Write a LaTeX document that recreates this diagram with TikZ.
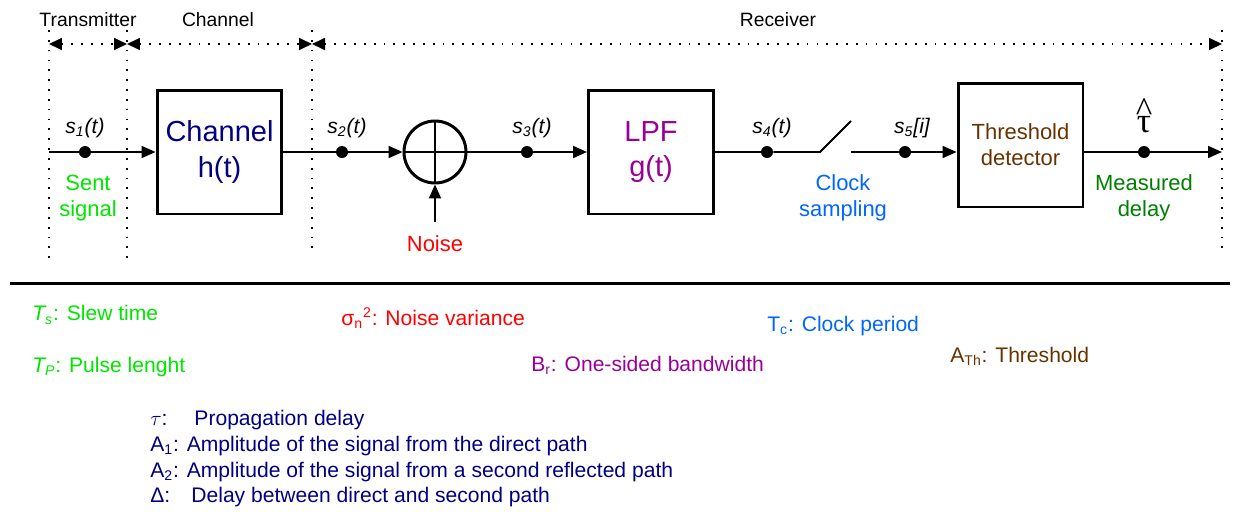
\documentclass[tikz,border=0pt]{standalone}
\usepackage{fontspec}
\setmainfont{Liberation Sans}
\newfontfamily\greekserif{Liberation Serif}
\usetikzlibrary{arrows.meta}
\definecolor{sentgreen}{RGB}{0,230,0}
\definecolor{chnavy}{RGB}{0,0,128}
\definecolor{lpfpurple}{RGB}{153,0,153}
\definecolor{thrbrown}{RGB}{102,51,0}
\definecolor{clkblue}{RGB}{0,102,255}
\definecolor{delaygreen}{RGB}{0,128,0}
\tikzset{
  sig/.style={line width=1.1pt},
  tip/.style={-{Triangle[length=0.28cm,width=0.24cm]}},
  blockbox/.style={draw,line width=1.7pt,minimum width=2.5cm,minimum height=2.48cm,align=center,inner sep=0pt},
  sdot/.style={circle,fill,inner sep=0pt,minimum size=0.24cm},
  sname/.style={font=\fontsize{12}{14}\selectfont\itshape},
  note/.style={font=\fontsize{12.5}{14.7}\selectfont,align=center},
  legend/.style={font=\fontsize{12}{14.6}\selectfont,anchor=west,inner sep=0pt},
  border/.style={line width=1pt,dash pattern=on 1pt off 4.6pt},
  span/.style={border,{Triangle[length=0.26cm,width=0.24cm]}-{Triangle[length=0.26cm,width=0.24cm]}}
}
\begin{document}
\begin{tikzpicture}[x=0.02cm,y=-0.02cm]
\useasboundingbox (0,0) rectangle (1244,511);
% Stage borders
    \draw[border] (49,30) -- (49,262);
    \draw[border] (127,30) -- (127,262);
    \draw[border] (312,30) -- (312,252);
    \draw[border] (1222,30) -- (1222,252);
    \coordinate (b0) at (49,44);
    \coordinate (b1) at (127,44);
    \coordinate (b2) at (312,44);
    \coordinate (b3) at (1222,44);
    \draw[span] (b0) -- (b1);
    \draw[span] (b1) -- (b2);
    \draw[span] (b2) -- (b3);
    \node[font=\fontsize{11}{13}\selectfont] (tx) at (88,20) {Transmitter};
    \node[font=\fontsize{11}{13}\selectfont] (ch) at (218,20) {Channel};
    \node[font=\fontsize{11}{13}\selectfont] (rx) at (778,20) {Receiver};
% Blocks
    \node[blockbox,font=\fontsize{16.5}{20}\selectfont,text=chnavy] (chan) at (219.5,152) {Channel\\h(t)};
    \node[circle,draw,line width=1.7pt,minimum size=1.24cm,inner sep=0pt] (sum) at (435,152) {};
    \draw[line width=0.8pt] (sum.north) -- (sum.south);
    \draw[line width=0.8pt] (sum.west) -- (sum.east);
    \node[blockbox,font=\fontsize{16.5}{20}\selectfont,text=lpfpurple] (lpf) at (651,152) {LPF\\g(t)};
    \node[blockbox,font=\fontsize{12.5}{14.7}\selectfont,text=thrbrown] (thr) at (1020.5,145) {Threshold\\detector};
% Signal points
    \coordinate (in) at (49,152);
    \coordinate (out) at (1222,152);
    \node[sdot] (d1) at (85,152) {};
    \node[sdot] (d2) at (342,152) {};
    \node[sdot] (d3) at (527,152) {};
    \node[sdot] (d4) at (767,152) {};
    \node[sdot] (d5) at (905,152) {};
    \node[sdot] (d6) at (1144,152) {};
    \coordinate (sw1) at (820,152);
    \coordinate (sw2) at (851,121);
    \coordinate (sw3) at (851,152);
    \coordinate (nz) at (435,222);
% Connectors
    \draw[sig] (in) -- (d1);
    \draw[sig,tip] (d1) -- (chan.west);
    \draw[sig] (chan.east) -- (d2);
    \draw[sig,tip] (d2) -- (sum.west);
    \draw[sig] (sum.east) -- (d3);
    \draw[sig,tip] (d3) -- (lpf.west);
    \draw[sig] (lpf.east) -- (d4);
    \draw[sig] (d4) -- (sw1) -- (sw2);
    \draw[sig] (sw3) -- (d5);
    \draw[sig,tip] (d5) -- (d5 -| thr.west);
    \draw[sig] (thr.east |- d6) -- (d6);
    \draw[sig,tip] (d6) -- (out);
    \draw[sig,tip] (nz) -- (sum.south);
% Labels
    \node[sname] (s1) at (85,128) {s\textsubscript{1}(t)};
    \node[sname] (s2) at (347,128) {s\textsubscript{2}(t)};
    \node[sname] (s3) at (532,128) {s\textsubscript{3}(t)};
    \node[sname] (s4) at (772,128) {s\textsubscript{4}(t)};
    \node[sname] (s5) at (912,128) {s\textsubscript{5}[i]};
    \node[font=\fontsize{20}{20}\selectfont\greekserif,inner sep=1pt] (tau) at (1144,124) {\ooalign{τ\cr\hidewidth\raisebox{0.3em}{\^{}}\hidewidth\cr}};
    \node[note,text=sentgreen] (sent) at (88,198) {Sent\\signal};
    \node[note,text=red] (noise) at (435,244) {Noise};
    \node[note,text=clkblue] (clk) at (843,198) {Clock\\sampling};
    \node[note,text=delaygreen] (meas) at (1144,198) {Measured\\delay};
% Parameters
    \draw[line width=1.7pt] (10,283) -- (1230,283);
    \node[legend,text=sentgreen] (ts) at (32,315) {\textit{T\textsubscript{s}}: Slew time};
    \node[legend,text=sentgreen] (tp) at (32,367) {\textit{T\textsubscript{P}}: Pulse lenght};
    \node[legend,text=red] (sn) at (341,318) {σ\textsubscript{n}\textsuperscript{2}: Noise variance};
    \node[legend,text=lpfpurple] (br) at (531,365) {B\textsubscript{r}: One-sided bandwidth};
    \node[legend,text=clkblue] (tc) at (767,326) {T\textsubscript{c}: Clock period};
    \node[legend,text=thrbrown] (ath) at (950,356) {A\textsubscript{Th}: Threshold};
    \node[legend,text=chnavy,align=left] (chpar) at (150,459) {$\tau$:\quad\ Propagation delay\\
      A\textsubscript{1}: Amplitude of the signal from the direct path\\
      A\textsubscript{2}: Amplitude of the signal from a second reflected path\\
      Δ:\quad Delay between direct and second path};
\end{tikzpicture}
\end{document}
